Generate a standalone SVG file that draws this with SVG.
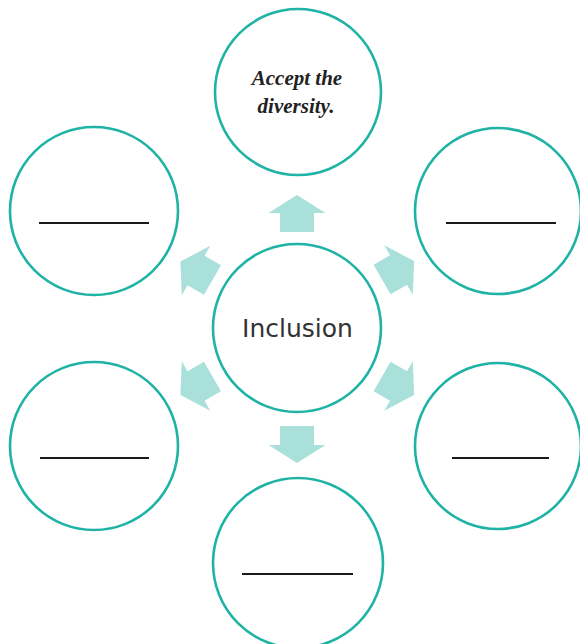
<svg xmlns="http://www.w3.org/2000/svg" width="580" height="644" viewBox="0 0 580 644">
  <defs>
    <style>
      .node { fill: #ffffff; stroke: #1fb3a6; stroke-width: 2.6; }
      .blank { stroke: #1a1a1a; stroke-width: 2; }
      .arrow { fill: #a9e0da; }
      .center-label { font-family: "DejaVu Sans", "Liberation Sans", sans-serif; font-size: 25px; fill: #333333; text-anchor: middle; }
      .italic-label { font-family: "Liberation Serif", serif; font-style: italic; font-weight: bold; font-size: 21px; fill: #222222; text-anchor: middle; }
    </style>
    <polygon id="arrowShape" class="arrow" points="0,-18 28.5,0 17,0 17,19 -17,19 -17,0 -28.5,0"/>
  </defs>
  <rect width="580" height="644" fill="#ffffff"/>

  <g id="connectors">
    <use href="#arrowShape" transform="translate(297,213)"/>
    <use href="#arrowShape" transform="translate(297,445) rotate(180)"/>
    <use href="#arrowShape" transform="translate(196,270.5) rotate(-60)"/>
    <use href="#arrowShape" transform="translate(398.5,270) rotate(60)"/>
    <use href="#arrowShape" transform="translate(196,386) rotate(-120)"/>
    <use href="#arrowShape" transform="translate(398.5,386) rotate(120)"/>
  </g>

  <g id="node-center">
    <circle class="node" cx="297" cy="328" r="84"/>
    <text class="center-label" x="297.5" y="337">Inclusion</text>
  </g>

  <g id="node-top">
    <circle class="node" cx="298" cy="92" r="83"/>
    <text class="italic-label" x="297" y="85">Accept the</text>
    <text class="italic-label" x="296" y="113">diversity.</text>
  </g>

  <g id="node-upper-left">
    <circle class="node" cx="94" cy="211" r="84"/>
    <line class="blank" x1="39" y1="223" x2="149" y2="223"/>
  </g>

  <g id="node-upper-right">
    <circle class="node" cx="498" cy="211" r="83"/>
    <line class="blank" x1="446" y1="223" x2="556" y2="223"/>
  </g>

  <g id="node-lower-left">
    <circle class="node" cx="94" cy="446" r="84"/>
    <line class="blank" x1="40" y1="458" x2="149" y2="458"/>
  </g>

  <g id="node-lower-right">
    <circle class="node" cx="498" cy="446" r="83"/>
    <line class="blank" x1="452" y1="458" x2="549" y2="458"/>
  </g>

  <g id="node-bottom">
    <circle class="node" cx="298" cy="563" r="85"/>
    <line class="blank" x1="242" y1="574" x2="353" y2="574"/>
  </g>
</svg>
